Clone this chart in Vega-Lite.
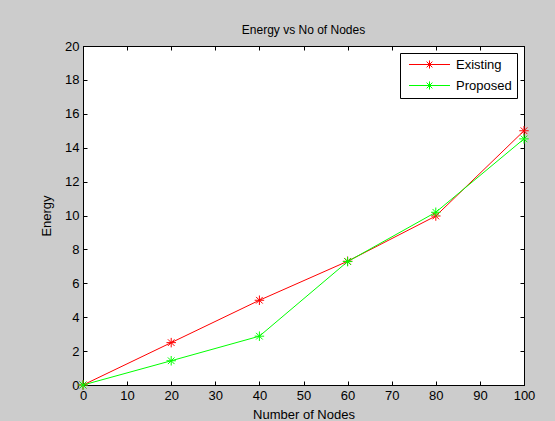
{
  "$schema": "https://vega.github.io/schema/vega-lite/v6.json",
  "width": 441,
  "height": 339,
  "autosize": {"type": "none"},
  "padding": {"left": 83, "top": 46, "right": 31, "bottom": 36},
  "background": "#cccccc",
  "title": {"text": "Energy vs No of Nodes", "font": "Liberation Sans", "fontSize": 12, "fontWeight": "normal", "color": "#000000", "offset": 3},
  "data": {"values": [
    {"nodes": 0, "energy": 0, "series": "Existing"},
    {"nodes": 20, "energy": 2.5, "series": "Existing"},
    {"nodes": 40, "energy": 5.0, "series": "Existing"},
    {"nodes": 60, "energy": 7.3, "series": "Existing"},
    {"nodes": 80, "energy": 9.97, "series": "Existing"},
    {"nodes": 100, "energy": 15.0, "series": "Existing"},
    {"nodes": 0, "energy": 0, "series": "Proposed"},
    {"nodes": 20, "energy": 1.43, "series": "Proposed"},
    {"nodes": 40, "energy": 2.88, "series": "Proposed"},
    {"nodes": 60, "energy": 7.28, "series": "Proposed"},
    {"nodes": 80, "energy": 10.19, "series": "Proposed"},
    {"nodes": 100, "energy": 14.52, "series": "Proposed"}
  ]},
  "layer": [
    {
      "mark": {"type": "line", "strokeWidth": 1},
      "encoding": {
        "x": {"field": "nodes", "type": "quantitative", "scale": {"domain": [0, 100], "nice": false},
              "axis": {"orient": "bottom", "title": "Number of Nodes", "labelPadding": 8, "titlePadding": 6, "values": [0,10,20,30,40,50,60,70,80,90,100]}},
        "y": {"field": "energy", "type": "quantitative", "scale": {"domain": [0, 20], "nice": false},
              "axis": {"orient": "left", "title": "Energy", "labelPadding": 8, "titlePadding": 11, "values": [0,2,4,6,8,10,12,14,16,18,20]}},
        "color": {"field": "series", "type": "nominal", "scale": {"domain": ["Existing", "Proposed"], "range": ["#ff0000", "#00ff00"]},
                  "legend": {"title": null, "orient": "top-right", "offset": 7}}
      }
    },
    {
      "mark": {"type": "point", "filled": false, "strokeWidth": 1, "size": 90, "opacity": 1,
               "shape": "M-1,0H1M0,-1V1M-0.7,-0.7L0.7,0.7M-0.7,0.7L0.7,-0.7"},
      "encoding": {
        "x": {"field": "nodes", "type": "quantitative",
              "axis": {"orient": "top", "title": null, "labels": false, "values": [0,10,20,30,40,50,60,70,80,90,100]}},
        "y": {"field": "energy", "type": "quantitative",
              "axis": {"orient": "right", "title": null, "labels": false, "values": [0,2,4,6,8,10,12,14,16,18,20]}},
        "color": {"field": "series", "type": "nominal"}
      }
    }
  ],
  "config": {
    "view": {"fill": "#ffffff", "stroke": "#000000", "strokeWidth": 1},
    "axis": {
      "grid": false,
      "domainColor": "#000000",
      "tickColor": "#000000",
      "tickSize": -4,
      "labelFlush": false,
      "labelFont": "Liberation Sans",
      "labelFontSize": 13,
      "labelColor": "#000000",
      "labelPadding": 5,
      "titleFont": "Liberation Sans",
      "titleFontSize": 13,
      "titleFontWeight": "normal",
      "titleColor": "#000000"
    },
    "legend": {
      "fillColor": "#ffffff",
      "strokeColor": "#000000",
      "padding": 5,
      "cornerRadius": 0,
      "rowPadding": 7,
      "labelFont": "Liberation Sans",
      "labelFontSize": 13,
      "labelColor": "#000000",
      "labelOffset": 38,
      "symbolSize": 81,
      "symbolStrokeWidth": 1,
      "symbolType": "M-0.556,0H8.556M4,-0.9V0.9M3.36,-0.64L4.64,0.64M3.36,0.64L4.64,-0.64"
    }
  }
}
